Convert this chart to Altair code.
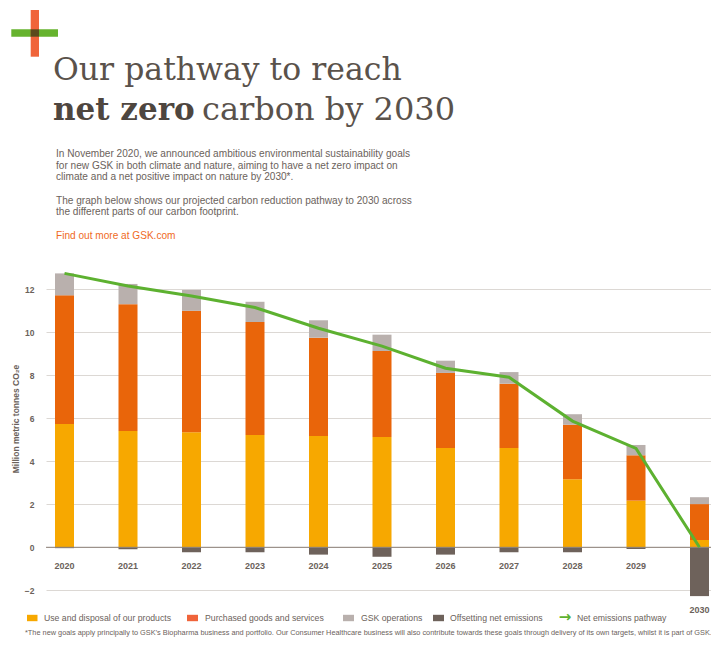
import altair as alt
import pandas as pd

# ---------------- data ----------------
years = [2020, 2021, 2022, 2023, 2024, 2025, 2026, 2027, 2028, 2029, 2030]
use_disposal = [5.73, 5.41, 5.35, 5.22, 5.18, 5.13, 4.62, 4.62, 3.16, 2.17, 0.34]
purchased = [5.99, 5.90, 5.65, 5.26, 4.57, 4.00, 3.49, 2.99, 2.54, 2.11, 1.67]
operations = [1.02, 0.94, 0.97, 0.94, 0.81, 0.76, 0.57, 0.54, 0.49, 0.48, 0.32]
offsetting = [-0.04, -0.09, -0.23, -0.23, -0.34, -0.44, -0.34, -0.23, -0.23, -0.08, -2.27]
net_pathway = [12.74, 12.15, 11.69, 11.15, 10.19, 9.36, 8.33, 7.91, 5.87, 4.60, 0.0]

segments = ["Use and disposal of our products", "Purchased goods and services",
            "GSK operations", "Offsetting net emissions"]
line_label = "Net emissions pathway"
y_ticks = [-2, 0, 2, 4, 6, 8, 10, 12]

title_line1 = "Our pathway to reach"
title_bold = "net zero"
title_rest = "carbon by 2030"
para_lines = [
    "In November 2020, we announced ambitious environmental sustainability goals",
    "for new GSK in both climate and nature, aiming to have a net zero impact on",
    "climate and a net positive impact on nature by 2030*.",
    "",
    "The graph below shows our projected carbon reduction pathway to 2030 across",
    "the different parts of our carbon footprint.",
]
link_text = "Find out more at GSK.com"
y_title = "Million metric tonnes CO\u2082e"
footnote = ("*The new goals apply principally to GSK\u2019s Biopharma business and portfolio. "
            "Our Consumer Healthcare business will also contribute towards these goals "
            "through delivery of its own targets, whilst it is part of GSK.")

# ---------------- styles ----------------
C_YELLOW = "#f7a800"
C_ORANGE = "#e9650a"
C_GREY = "#b9b0ad"
C_DARK = "#6e625b"
C_GREEN = "#5db130"
C_TEXT = "#6b625b"
C_TITLE = "#5a524b"
SANS = "Liberation Sans"
SERIF = "DejaVu Serif"

# ---------------- tables ----------------
rows = []
for i, yr in enumerate(years):
    for k, (seg, vals) in enumerate(zip(segments, [use_disposal, purchased, operations, offsetting])):
        rows.append({"year": yr, "segment": seg, "value": vals[i], "order": k})
bars_df = pd.DataFrame(rows)
line_df = pd.DataFrame({"year": years, "value": net_pathway})
lab_df = pd.DataFrame({
    "year": years,
    "value": [(-0.87 if o > -1 else o - 0.65) for o in offsetting],
    "label": [str(y) for y in years],
})
one = pd.DataFrame({"a": [0]})

# layout: svg starts at page (8, 8); plot area at page (46, 270), 665 x 330
W, H = 665, 330
STEP = 63.5
FIRST = 18.5
xscale = alt.Scale(domain=[2020 - FIRST / STEP, 2020 + (W - FIRST) / STEP],
                   nice=False, zero=False, padding=0)
yscale = alt.Scale(domain=[-2.451, 12.898], nice=False, zero=False, padding=0)

X = alt.X("year:Q", scale=xscale, axis=None)

bars = alt.Chart(bars_df).mark_bar(size=19).encode(
    x=X,
    y=alt.Y("value:Q", stack="zero", scale=yscale, title=None,
            axis=alt.Axis(values=y_ticks, grid=True, gridColor="#dcd8d4", gridWidth=1,
                          domain=False, ticks=False, labelPadding=12,
                          labelFont=SANS, labelFontSize=8.5, labelFontWeight="bold",
                          labelColor=C_TEXT)),
    color=alt.Color("segment:N", scale=alt.Scale(domain=segments,
                                                  range=[C_YELLOW, C_ORANGE, C_GREY, C_DARK]),
                    legend=None),
    order=alt.Order("order:Q"),
)

zero_rule = alt.Chart(one).mark_rule(color="#8c8179", strokeWidth=1).encode(
    y=alt.datum(0, scale=yscale)
)

line = alt.Chart(line_df).mark_line(color=C_GREEN, strokeWidth=3).encode(
    x=X, y=alt.Y("value:Q", scale=yscale)
)

year_labels = alt.Chart(lab_df).mark_text(
    font=SANS, fontSize=9, fontWeight="bold", color=C_TEXT, baseline="middle"
).encode(x=X, y=alt.Y("value:Q", scale=yscale), text="label:N")


def txt(text, x, y, **kw):
    base = dict(font=SANS, fontSize=10, color=C_TEXT, align="left", baseline="middle")
    base.update(kw)
    return alt.Chart(one).mark_text(text=text, **base).encode(x=alt.value(x), y=alt.value(y))


def box(x1, x2, y1, y2, color):
    return alt.Chart(one).mark_rect(color=color).encode(
        x=alt.value(x1), x2=alt.value(x2), y=alt.value(y1), y2=alt.value(y2))


# annotation positions are relative to the plot origin
logo = [
    box(-34.7, 12, -240.7, -233.3, "#66b32e"),
    box(-15.3, -7, -260, -213.3, "#f0643a"),
    box(-15.3, -7, -240.7, -233.3, "#5a4a1c"),
]

titles = [
    txt(title_line1, 7, -190, font=SERIF, fontSize=31.5, color=C_TITLE, baseline="alphabetic"),
    txt(title_bold, 7, -150, font=SERIF, fontSize=31, fontWeight="bold", color="#4e463f",
        baseline="alphabetic"),
    txt(title_rest, 156, -150, font=SERIF, fontSize=32, color=C_TITLE, baseline="alphabetic"),
]

para_y = [-116, -104.3, -92.6, -81, -69.3, -57.6]
para = [txt(t, 10, y, fontSize=10.1) for t, y in zip(para_lines, para_y) if t]
para.append(txt(link_text, 10, -34.5, fontSize=10.1, color="#ef6a1d"))

ytitle = txt(y_title, -30, 149, fontSize=8.5, fontWeight="bold", angle=270, align="center")

leg_y = 348
legend_items = [
    box(-19, -8.5, leg_y - 3.2, leg_y + 3.2, C_YELLOW),
    box(141, 152, leg_y - 3.2, leg_y + 3.2, "#f0643a"),
    box(297, 308, leg_y - 3.2, leg_y + 3.2, C_GREY),
    box(387, 398, leg_y - 3.2, leg_y + 3.2, C_DARK),
    txt("\u2192", 519, leg_y - 1, font="DejaVu Sans", fontSize=15, fontWeight="bold",
        color=C_GREEN, align="center"),
]
for lab, lx in zip(segments + [line_label], [-2, 159, 315, 404, 531]):
    legend_items.append(txt(lab, lx, leg_y, fontSize=8.7))

foot = txt(footnote, -21, 363, fontSize=7.35)

chart = alt.layer(
    bars, zero_rule, line, year_labels, ytitle, foot, *logo, *titles, *para, *legend_items
).properties(
    width=W, height=H,
    padding={"left": 38, "top": 262, "right": 0, "bottom": 37},
    autosize=alt.AutoSizeParams(type="none"),
    background="white",
).configure_view(stroke=None)

chart.save("out.html", embed_options={"renderer": "svg", "actions": False})
